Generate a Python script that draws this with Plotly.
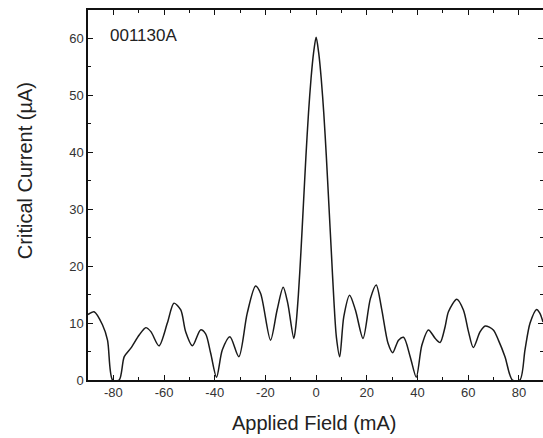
import plotly.graph_objects as go

field_mA = [-90, -87.6, -84.3, -82.3, -80.3, -77.7, -75.7, -73.1, -69.8, -67.2, -65.2, -62.0,
            -58.7, -56.1, -53.4, -51.5, -48.8, -45.6, -43.6, -41.6, -39.3, -37.0, -34.0, -30.5,
            -27.2, -23.9, -21.9, -18.0, -15.4, -13.0, -11.2, -8.8, -8.0, -7.0, -6.0, -5.0, -4.0,
            -3.0, -2.0, -1.0, 0.0, 1.0, 2.0, 3.0, 4.0, 5.0, 6.0, 7.0, 8.0, 9.3, 10.9, 13.2, 15.5,
            18.5, 21.4, 23.7, 25.8, 28.4, 30.2, 32.5, 34.5, 37.1, 39.5, 41.7, 44.3, 47.0, 48.9,
            50.9, 52.2, 55.5, 58.1, 60.1, 62.0, 64.7, 66.7, 69.9, 71.9, 74.5, 77.4, 80.4, 82.4,
            84.4, 87.0, 88.3, 89.5]
current_uA = [11.5, 12.0, 9.7, 7.0, 0.0, 0.0, 4.1, 5.6, 7.9, 9.2, 8.5, 6.0,
              10.0, 13.5, 12.3, 8.5, 6.0, 8.8, 8.1, 4.7, 0.5, 5.3, 7.6, 4.1,
              11.7, 16.5, 15.2, 7.0, 12.3, 16.3, 13.5, 7.3, 9.5, 15.0, 22.5, 31.0, 39.5,
              47.0, 53.0, 57.5, 60.2, 57.5, 53.0, 47.0, 39.5, 31.0, 22.5, 14.0, 7.5, 4.1, 11.1, 14.9, 12.3,
              7.3, 14.3, 16.7, 12.6, 6.4, 4.8, 7.0, 7.5, 4.1, 0.5, 6.1, 8.8, 7.3, 6.6,
              9.4, 12.0, 14.2, 12.3, 8.5, 5.7, 8.5, 9.5, 8.8, 7.0, 4.1, 0.0, 0.0, 5.3,
              10.0, 12.4, 11.7, 10.2]

x_ticks = [-80, -60, -40, -20, 0, 20, 40, 60, 80]
y_ticks = [0, 10, 20, 30, 40, 50, 60]

FONT = "Liberation Sans, Arial, sans-serif"

fig = go.Figure()
fig.add_trace(go.Scatter(x=field_mA, y=current_uA, mode="lines",
                         line=dict(color="#1a1a1a", width=1.5, shape="spline", smoothing=0.8),
                         showlegend=False))
# invisible trace for right axis ticks
fig.add_trace(go.Scatter(x=[field_mA[0]], y=[current_uA[0]], yaxis="y2", mode="lines",
                         line=dict(width=0), showlegend=False, hoverinfo="skip"))

tickfont = dict(family=FONT, size=13, color="#333")
fig.update_layout(
    width=543, height=438,
    margin=dict(l=88, r=0, t=10, b=58),
    paper_bgcolor="white", plot_bgcolor="white",
    font=dict(family=FONT, color="#222"),
    xaxis=dict(range=[-90, 89.5], tickvals=x_ticks, ticktext=[str(v) for v in x_ticks],
               ticks="inside", ticklen=5, tickwidth=1.3, tickcolor="#111",
               showline=True, linecolor="#111", linewidth=1.5, mirror="ticks",
               showgrid=False, zeroline=False, tickfont=tickfont, automargin=False,
               minor=dict(ticks="inside", dtick=10, tick0=0, ticklen=3, tickwidth=1.2, tickcolor="#111", showgrid=False)),
    yaxis=dict(range=[0, 65], tickvals=y_ticks, ticktext=[str(v) for v in y_ticks],
               ticks="inside", ticklen=5, tickwidth=1.3, tickcolor="#111",
               showline=True, linecolor="#111", linewidth=1.5,
               showgrid=False, zeroline=False, tickfont=tickfont, automargin=False,
               minor=dict(ticks="inside", dtick=5, tick0=0, ticklen=3, tickwidth=1.2, tickcolor="#111", showgrid=False)),
    yaxis2=dict(range=[0, 65], overlaying="y", side="right", tickvals=y_ticks,
                showticklabels=False, ticks="inside", ticklen=5, tickwidth=1.3, tickcolor="#111",
                showline=False, showgrid=False, zeroline=False, automargin=False,
                minor=dict(ticks="inside", dtick=5, tick0=0, ticklen=3, tickwidth=1.2, tickcolor="#111", showgrid=False)),
    annotations=[
        dict(text="001130A", xref="paper", yref="paper", x=0.044, y=0.932,
             xanchor="left", yanchor="middle", showarrow=False,
             font=dict(family=FONT, size=17, color="#222")),
        dict(text="Applied Field (mA)", xref="paper", yref="paper", x=0.497, y=-0.116,
             xanchor="center", yanchor="middle", showarrow=False,
             font=dict(family=FONT, size=20, color="#222")),
        dict(text="Critical Current (µA)", xref="paper", yref="paper", x=-0.138, y=0.565,
             xanchor="center", yanchor="middle", showarrow=False, textangle=-90,
             font=dict(family=FONT, size=20, color="#222")),
    ],
)

fig.write_html("out.html")
